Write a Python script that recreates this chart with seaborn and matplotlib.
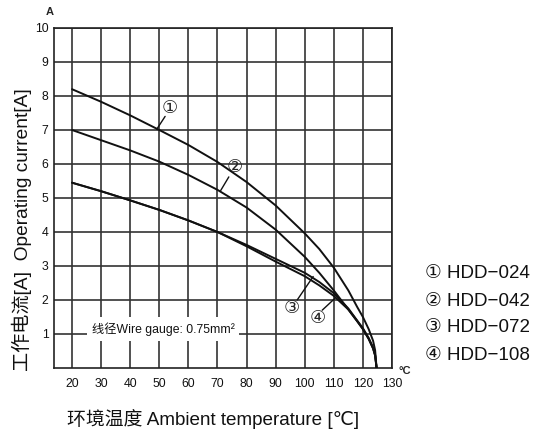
import matplotlib
matplotlib.use("Agg")
import matplotlib.pyplot as plt
import seaborn as sns
import pandas as pd

# ---- data ----
temps = [20, 30, 40, 50, 60, 70, 80, 90, 100, 105, 110, 115, 118, 120, 122, 123.5, 124.2, 124.7]
hdd_024 = [8.2, 7.83, 7.43, 7.0, 6.56, 6.06, 5.47, 4.78, 3.96, 3.5, 2.95, 2.28, 1.8, 1.5, 1.14, 0.8, 0.52, 0.0]
hdd_042 = [7.0, 6.7, 6.4, 6.07, 5.68, 5.24, 4.72, 4.07, 3.27, 2.8, 2.28, 1.72, 1.38, 1.15, 0.86, 0.58, 0.38, 0.0]
hdd_072 = [5.45, 5.2, 4.93, 4.65, 4.34, 4.0, 3.62, 3.21, 2.8, 2.53, 2.2, 1.75, 1.4, 1.17, 0.88, 0.6, 0.38, 0.0]
hdd_108 = [5.45, 5.2, 4.93, 4.65, 4.34, 4.0, 3.58, 3.13, 2.7, 2.43, 2.12, 1.72, 1.38, 1.14, 0.85, 0.57, 0.36, 0.0]
series_names = ["HDD−024", "HDD−042", "HDD−072", "HDD−108"]
series_marks = ["①", "②", "③", "④"]
x_ticks = [20, 30, 40, 50, 60, 70, 80, 90, 100, 110, 120, 130]
y_ticks = [1, 2, 3, 4, 5, 6, 7, 8, 9, 10]
x_label = "环境温度 Ambient temperature [℃]"
y_label = "工作电流[A]  Operating current[A]"
note = "线径Wire gauge: 0.75mm²"

sns.set_style("white")
FAM = ["Liberation Sans", "DejaVu Sans", "Noto Sans CJK SC"]
plt.rcParams["font.family"] = FAM

df = pd.concat([
    pd.DataFrame({"T": temps, "I": vals, "s": name})
    for name, vals in zip(series_names, [hdd_024, hdd_042, hdd_072, hdd_108])
])

W, H = 533, 430
fig = plt.figure(figsize=(W / 100, H / 100), dpi=100)
L, R, T, B = 54, 392, 28, 368
ax = fig.add_axes([L / W, 1 - B / H, (R - L) / W, (B - T) / H])

sns.lineplot(data=df, x="T", y="I", hue="s", palette=["#111111"] * 4,
             sort=False, legend=False, linewidth=1.4, ax=ax, zorder=3)

ax.set_xlim(13.8, 130)
ax.set_ylim(0, 10)
ax.set_xticks(x_ticks)
ax.set_yticks(y_ticks)
ax.tick_params(axis="both", length=0, labelsize=8.8, colors="#111111")
ax.tick_params(axis="x", pad=7)
ax.tick_params(axis="y", pad=4)
ax.grid(True, color="#333333", linewidth=1.2)
for sp in ax.spines.values():
    sp.set_color("#222222")
    sp.set_linewidth(1.2)
ax.set_xlabel("")
ax.set_ylabel("")

# circled labels with pointers
ann = [
    ("①", (53.4, 7.64), (52.0, 7.40), (49.1, 7.02)),
    ("②", (75.8, 5.92), (73.9, 5.62), (71.1, 5.22)),
    ("③", (95.5, 1.76), (97.4, 2.0), (102.9, 2.69)),
    ("④", (104.6, 1.46), (106.0, 1.7), (110.4, 2.05)),
]
for txt, pos, p0, p1 in ann:
    ax.plot([p0[0], p1[0]], [p0[1], p1[1]], color="#111111", lw=1.0, zorder=4)
    ax.text(pos[0], pos[1], txt, ha="center", va="center", fontsize=13,
            family=["DejaVu Sans", "Noto Sans CJK SC"], zorder=5)

# wire gauge note with white box
ax.text(51.3, 1.15, note, ha="center", va="center", fontsize=8.8,
        family=FAM, zorder=5, color="#111111",
        bbox=dict(boxstyle="square,pad=0.4", fc="white", ec="none"))

# axis unit marks
fig.text(50 / W, 1 - 12 / H, "A", ha="center", va="center", fontsize=8,
         fontweight="bold", family=FAM)
fig.text(405 / W, 1 - 371 / H, "°C", ha="center", va="center", fontsize=8,
         fontweight="bold", family=FAM)

# axis titles
fig.text(22 / W, 1 - 230 / H, y_label, rotation=90, ha="center", va="center",
         fontsize=13.8, family=FAM, color="#111111")
fig.text(213 / W, 1 - 419 / H, x_label, ha="center", va="center",
         fontsize=13.6, family=FAM, color="#111111")

# right-side legend
legend_y = [273, 301, 328, 355]
for mark, name, yy in zip(series_marks, series_names, legend_y):
    fig.text(425 / W, 1 - yy / H, f"{mark} {name}", ha="left", va="center",
             fontsize=13.5, family=FAM, color="#111111")

fig.savefig("out.png", dpi=100)
